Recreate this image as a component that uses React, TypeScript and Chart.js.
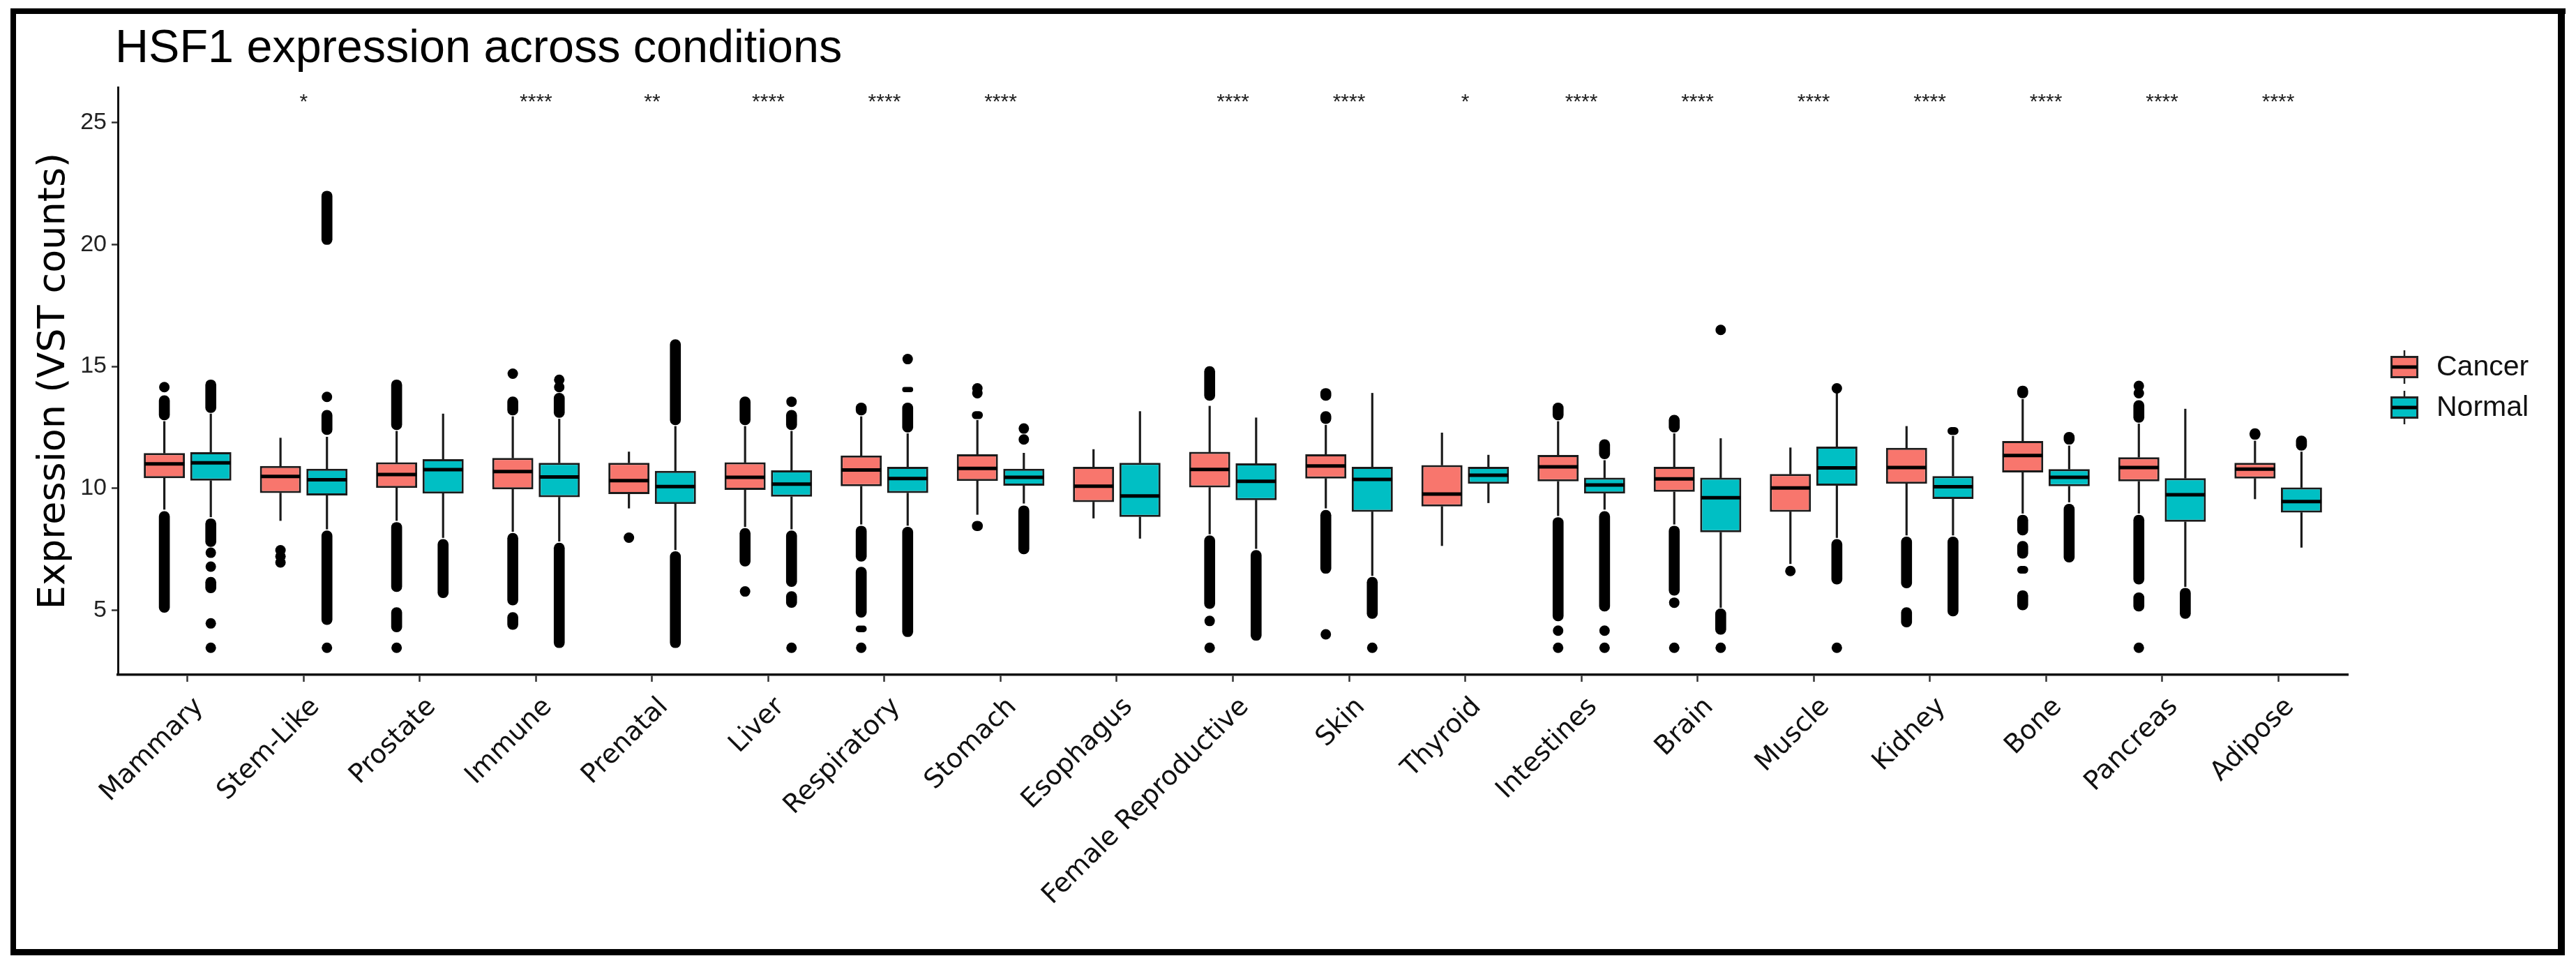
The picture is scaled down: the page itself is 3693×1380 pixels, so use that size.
import { useEffect, useRef } from 'react';
import { Chart, registerables } from 'chart.js';

Chart.register(...registerables);

// ---------- data ----------
const CATEGORIES = [
  'Mammary', 'Stem-Like', 'Prostate', 'Immune', 'Prenatal', 'Liver', 'Respiratory', 'Stomach',
  'Esophagus', 'Female Reproductive', 'Skin', 'Thyroid', 'Intestines', 'Brain', 'Muscle',
  'Kidney', 'Bone', 'Pancreas', 'Adipose',
];

const SIGNIFICANCE = [
  '', '*', '', '****', '**', '****', '****', '****', '', '****', '****', '*', '****', '****',
  '****', '****', '****', '****', '****',
];

const SERIES = ['Cancer', 'Normal'];

// Cancer box statistics (lower whisker, Q1, median, Q3, upper whisker)
const CANCER_LOW = [9.13, 8.67, 8.67, 8.22, 9.18, 8.42, 8.52, 8.92, 8.77, 8.12, 9.18, 7.64, 8.87, 8.52, 6.9, 8.07, 8.97, 8.97, 9.56];
const CANCER_Q1 = [10.41, 9.8, 10.01, 9.95, 9.76, 9.93, 10.08, 10.3, 9.43, 10.03, 10.4, 9.25, 10.28, 9.85, 9.03, 10.18, 10.65, 10.28, 10.4];
const CANCER_MEDIAN = [11.0, 10.48, 10.56, 10.68, 10.31, 10.45, 10.75, 10.81, 10.08, 10.77, 10.91, 9.76, 10.88, 10.38, 10.01, 10.85, 11.34, 10.85, 10.78];
const CANCER_Q3 = [11.44, 10.91, 11.06, 11.24, 11.04, 11.06, 11.34, 11.39, 10.88, 11.49, 11.39, 10.95, 11.36, 10.88, 10.58, 11.66, 11.94, 11.27, 11.04];
const CANCER_HIGH = [12.74, 12.06, 12.34, 12.94, 11.49, 12.54, 12.94, 12.79, 11.59, 13.37, 12.59, 12.27, 12.74, 12.24, 11.66, 12.54, 13.65, 12.64, 11.94];

// Normal box statistics
const NORMAL_LOW = [8.82, 8.32, 7.97, 7.82, 7.47, 8.32, 8.47, 9.38, 7.94, 7.52, 6.41, 9.4, 9.13, 5.1, 7.97, 8.07, 9.43, 5.96, 7.57];
const NORMAL_Q1 = [10.31, 9.7, 9.78, 9.63, 9.35, 9.65, 9.8, 10.1, 8.82, 9.51, 9.03, 10.18, 9.78, 8.19, 10.1, 9.56, 10.08, 8.62, 9.0];
const NORMAL_MEDIAN = [11.04, 10.35, 10.76, 10.46, 10.07, 10.17, 10.4, 10.45, 9.68, 10.28, 10.36, 10.53, 10.13, 9.61, 10.83, 10.06, 10.45, 9.73, 9.45];
const NORMAL_Q3 = [11.48, 10.8, 11.19, 11.04, 10.71, 10.73, 10.88, 10.8, 11.04, 11.02, 10.88, 10.88, 10.43, 10.43, 11.71, 10.5, 10.78, 10.41, 10.03];
const NORMAL_HIGH = [13.05, 12.1, 13.05, 12.84, 12.54, 12.34, 12.24, 11.44, 13.15, 12.89, 13.9, 11.36, 11.14, 12.04, 13.95, 12.14, 11.74, 13.25, 11.49];

// Dense outlier runs ([from, to]) and isolated outliers, per category
const CANCER_OUTLIER_RUNS: [number, number][][] = [
  [[4.9, 9.05], [12.8, 13.8]],
  [],
  [[5.75, 8.6], [4.1, 5.1], [12.4, 14.45]],
  [[5.2, 8.15], [4.2, 4.9], [13.0, 13.75]],
  [],
  [[6.8, 8.35], [12.6, 13.75]],
  [[7.0, 8.45], [4.7, 6.76], [4.1, 4.35], [13.0, 13.5]],
  [[8.25, 8.65], [12.85, 13.15]],
  [],
  [[5.06, 8.05], [13.6, 15.0]],
  [[6.5, 9.1], [12.65, 13.15], [13.6, 14.1]],
  [],
  [[4.55, 8.8], [12.8, 13.5]],
  [[5.6, 8.45], [12.3, 13.0]],
  [],
  [[5.9, 8.0], [4.3, 5.1]],
  [[8.07, 8.9], [7.12, 7.82], [6.5, 6.8], [5.0, 5.8], [13.7, 14.2]],
  [[6.06, 8.9], [4.95, 5.71], [12.7, 13.6]],
  [[12.0, 12.45]],
];
const CANCER_OUTLIER_POINTS: number[][] = [
  [14.15], [7.45, 7.2, 6.95], [3.45], [14.7], [7.97], [5.76], [3.45], [14.1, 13.9], [],
  [4.55, 3.45], [4.0], [], [4.15, 3.45], [5.3, 3.45], [6.6], [], [], [13.9, 14.2, 3.45], [],
];
const NORMAL_OUTLIER_RUNS: [number, number][][] = [
  [[7.6, 8.75], [5.7, 6.35], [13.1, 14.45]],
  [[4.4, 8.25], [12.2, 13.2], [20.0, 22.2]],
  [[5.5, 7.9]],
  [[3.45, 7.75], [12.9, 13.9]],
  [[3.45, 7.4], [12.6, 16.1]],
  [[5.96, 8.25], [5.1, 5.76], [12.4, 13.2]],
  [[3.9, 8.4], [12.3, 13.5], [13.95, 14.15]],
  [[7.3, 9.28]],
  [],
  [[3.75, 7.45]],
  [[4.65, 6.35]],
  [],
  [[4.95, 9.05], [11.2, 12.0]],
  [[4.0, 5.05]],
  [[6.06, 7.9]],
  [[4.75, 8.0], [12.2, 12.5]],
  [[6.96, 9.35], [11.8, 12.3]],
  [[4.65, 5.9]],
  [[11.55, 12.15]],
];
const NORMAL_OUTLIER_POINTS: number[][] = [
  [7.35, 6.78, 4.45, 3.45], [13.75, 3.45], [], [14.15, 14.45], [], [13.55, 3.45], [15.3],
  [12.45, 12.0], [], [], [3.45], [], [4.15, 3.45], [16.5, 3.45], [14.1, 3.45], [], [], [], [],
];

const Y_TICKS = [5, 10, 15, 20, 25];
const Y_MIN = 2.34;
const Y_MAX = 26.46;
const SIG_Y = 25.85;

const TITLE = 'HSF1 expression across conditions';
const Y_TITLE = 'Expression (VST counts)';

// ---------- styling ----------
const COLORS = ['#F8766D', '#00BFC4'];
const DODGE = 0.2;
const OUTLINE = '#1a1a1a';

export default function App() {
  const ref = useRef<HTMLCanvasElement | null>(null);

  useEffect(() => {
    document.body.style.margin = '0';
    const canvas = ref.current;
    if (!canvas) return;

    const series = [
      {
        label: SERIES[0], color: COLORS[0], offset: -DODGE,
        low: CANCER_LOW, q1: CANCER_Q1, med: CANCER_MEDIAN, q3: CANCER_Q3, high: CANCER_HIGH,
        runs: CANCER_OUTLIER_RUNS, points: CANCER_OUTLIER_POINTS,
      },
      {
        label: SERIES[1], color: COLORS[1], offset: DODGE,
        low: NORMAL_LOW, q1: NORMAL_Q1, med: NORMAL_MEDIAN, q3: NORMAL_Q3, high: NORMAL_HIGH,
        runs: NORMAL_OUTLIER_RUNS, points: NORMAL_OUTLIER_POINTS,
      },
    ];

    const datasets: any[] = [];
    series.forEach((s) => {
      datasets.push({
        type: 'bar',
        label: s.label,
        isBox: true,
        medians: s.med,
        data: CATEGORIES.map((_, i) => ({ x: i + s.offset, y: [s.q1[i], s.q3[i]] })),
        backgroundColor: s.color,
        borderColor: OUTLINE,
        borderWidth: 3,
        borderSkipped: false,
        grouped: false,
        categoryPercentage: 1,
        barPercentage: 0.885,
        order: 1,
      });
      datasets.push({
        type: 'bar',
        label: s.label + ' whiskers',
        data: CATEGORIES.flatMap((_, i) => [
          { x: i + s.offset, y: [s.q3[i], s.high[i]] },
          { x: i + s.offset, y: [s.low[i], s.q1[i]] },
        ]),
        backgroundColor: OUTLINE,
        borderWidth: 0,
        barThickness: 2.5,
        grouped: false,
        order: 3,
      });
      datasets.push({
        type: 'bar',
        label: s.label + ' outlier runs',
        data: s.runs.flatMap((rs, i) => rs.map((r) => ({ x: i + s.offset, y: [r[0], r[1]] }))),
        backgroundColor: '#000',
        borderWidth: 0,
        barThickness: 15,
        borderRadius: 8,
        borderSkipped: false,
        grouped: false,
        order: 2,
      });
      datasets.push({
        type: 'scatter',
        label: s.label + ' outliers',
        data: s.points.flatMap((ps, i) => ps.map((v) => ({ x: i + s.offset, y: v }))),
        pointRadius: 7.5,
        pointBackgroundColor: '#000',
        pointBorderWidth: 0,
        showLine: false,
        order: 2,
      });
    });

    const decorations = {
      id: 'decorations',
      beforeDraw(chart: any) {
        const ctx = chart.ctx;
        ctx.save();
        ctx.fillStyle = '#fff';
        ctx.fillRect(0, 0, chart.width, chart.height);
        ctx.restore();
      },
      afterDatasetsDraw(chart: any) {
        const ctx = chart.ctx;
        const yScale = chart.scales.y;
        ctx.save();
        ctx.strokeStyle = '#000';
        ctx.lineWidth = 5;
        chart.data.datasets.forEach((ds: any, di: number) => {
          if (!ds.isBox) return;
          const meta = chart.getDatasetMeta(di);
          meta.data.forEach((el: any, i: number) => {
            const y = yScale.getPixelForValue(ds.medians[i]);
            ctx.beginPath();
            ctx.moveTo(el.x - el.width / 2 + 1, y);
            ctx.lineTo(el.x + el.width / 2 - 1, y);
            ctx.stroke();
          });
        });
        ctx.restore();
      },
      afterDraw(chart: any) {
        const ctx = chart.ctx;
        const area = chart.chartArea;
        const xScale = chart.scales.x;
        const yScale = chart.scales.y;
        ctx.save();

        // title
        ctx.fillStyle = '#000';
        ctx.font = '66.5px "Liberation Sans"';
        ctx.textAlign = 'left';
        ctx.textBaseline = 'alphabetic';
        ctx.fillText(TITLE, area.left - 4, 89);

        // significance labels
        ctx.fillStyle = '#222';
        ctx.font = '30px "Liberation Sans"';
        ctx.textAlign = 'center';
        ctx.textBaseline = 'middle';
        const sy = yScale.getPixelForValue(SIG_Y);
        SIGNIFICANCE.forEach((lab, i) => {
          if (lab) ctx.fillText(lab, xScale.getPixelForValue(i), sy);
        });

        // legend
        const lx = area.right + 61;
        const kw = 40;
        const kh = 32;
        SERIES.forEach((name, k) => {
          const cy = 526 + k * 58;
          ctx.strokeStyle = '#222';
          ctx.lineWidth = 2.5;
          ctx.beginPath();
          ctx.moveTo(lx + kw / 2, cy - 24);
          ctx.lineTo(lx + kw / 2, cy + 24);
          ctx.stroke();
          ctx.fillStyle = COLORS[k];
          ctx.fillRect(lx, cy - kh / 2, kw, kh);
          ctx.lineWidth = 3;
          ctx.strokeRect(lx + 1.5, cy - kh / 2 + 1.5, kw - 3, kh - 3);
          ctx.lineWidth = 5;
          ctx.strokeStyle = '#000';
          ctx.beginPath();
          ctx.moveTo(lx + 2, cy);
          ctx.lineTo(lx + kw - 2, cy);
          ctx.stroke();
          ctx.fillStyle = '#111';
          ctx.font = '41px "Liberation Sans"';
          ctx.textAlign = 'left';
          ctx.textBaseline = 'middle';
          ctx.fillText(name, lx + 66, cy + 1);
        });

        // outer frame
        ctx.fillStyle = '#000';
        ctx.fillRect(15, 12, 3663, 8);
        ctx.fillRect(15, 12, 8, 1357);
        ctx.fillRect(3667, 12, 10, 1357);
        ctx.fillRect(15, 1360, 3662, 9);
        ctx.restore();
      },
    };

    const chart = new Chart(canvas, {
      type: 'bar',
      data: { datasets },
      plugins: [decorations],
      options: {
        animation: false,
        responsive: true,
        maintainAspectRatio: false,
        devicePixelRatio: 1,
        events: [],
        layout: { padding: { top: 125, right: 327, left: 0, bottom: 0 } },
        plugins: {
          legend: { display: false },
          title: { display: false },
          tooltip: { enabled: false },
        },
        scales: {
          x: {
            type: 'linear',
            min: -0.6,
            max: 18.6,
            offset: false,
            afterBuildTicks: (s: any) => {
              s.ticks = CATEGORIES.map((_, i) => ({ value: i }));
            },
            afterFit: (s: any) => {
              s.height = 413;
            },
            grid: {
              display: true,
              offset: false,
              drawOnChartArea: false,
              drawTicks: true,
              tickLength: 10,
              tickWidth: 2.5,
              tickColor: '#333',
            },
            border: { display: true, color: '#111', width: 3.5 },
            ticks: {
              autoSkip: false,
              maxRotation: 45,
              minRotation: 45,
              padding: 14,
              labelOffset: 17,
              color: '#111',
              font: { family: 'DejaVu Sans', size: 38 },
              callback: (v: any) => CATEGORIES[v] ?? '',
            },
          },
          y: {
            type: 'linear',
            min: Y_MIN,
            max: Y_MAX,
            afterBuildTicks: (s: any) => {
              s.ticks = Y_TICKS.map((v) => ({ value: v }));
            },
            afterFit: (s: any) => {
              s.width = 169;
            },
            grid: {
              display: true,
              drawOnChartArea: false,
              drawTicks: true,
              tickLength: 9,
              tickWidth: 2.5,
              tickColor: '#333',
            },
            border: { display: true, color: '#111', width: 3 },
            ticks: {
              padding: 7,
              color: '#222',
              font: { family: 'Liberation Sans', size: 34 },
            },
            title: {
              display: true,
              text: Y_TITLE,
              color: '#000',
              font: { family: 'DejaVu Sans', size: 54 },
              padding: { top: 46, bottom: 0 },
            },
          },
        },
      } as any,
    });

    return () => chart.destroy();
  }, []);

  return (
    <div style={{ width: '3693px', height: '1380px', position: 'relative' }}>
      <canvas ref={ref} />
    </div>
  );
}
